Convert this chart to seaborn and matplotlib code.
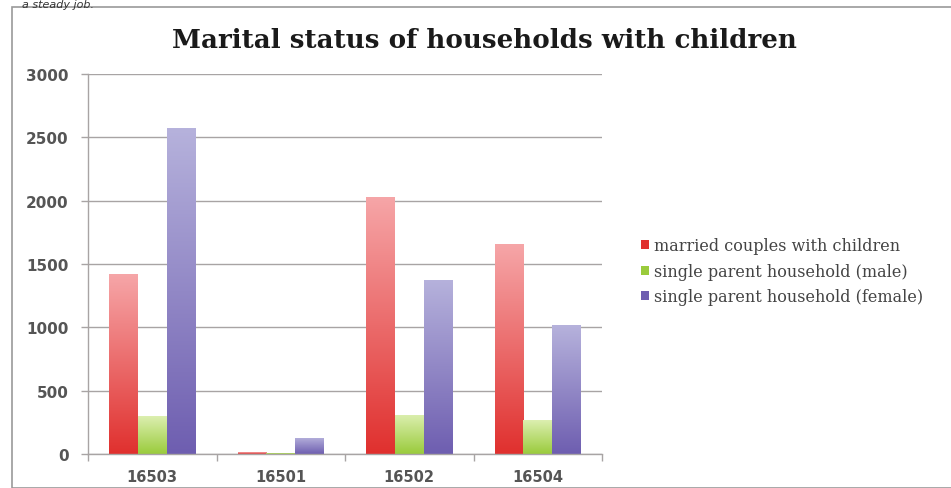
import numpy as np
import pandas as pd
import matplotlib
matplotlib.use("Agg")
import matplotlib.pyplot as plt
from matplotlib.colors import LinearSegmentedColormap
from matplotlib.patches import Rectangle
import seaborn as sns

zip_codes = ["16503", "16501", "16502", "16504"]
married = [1420, 15, 2030, 1655]
single_male = [300, 10, 310, 265]
single_female = [2570, 130, 1375, 1015]
series_names = [
    "married couples with children",
    "single parent household (male)",
    "single parent household (female)",
]
y_ticks = [0, 500, 1000, 1500, 2000, 2500, 3000]

df = pd.DataFrame({
    "zip": zip_codes * 3,
    "value": married + single_male + single_female,
    "series": [series_names[0]] * 4 + [series_names[1]] * 4 + [series_names[2]] * 4,
})

# (top, bottom) colour of each series' vertical gradient
gradients = [("#f6a6a8", "#e0302e"), ("#dcefb0", "#9acb3c"), ("#b6b2dc", "#6e5eb0")]
solid = [g[1] for g in gradients]

sns.set_theme(style="white")
plt.rcParams["font.family"] = ["DejaVu Sans"]

fig = plt.figure(figsize=(9.51, 4.89), dpi=100)
ax = fig.add_axes([88 / 951, 1 - 455 / 489, (602 - 88) / 951, (455 - 75) / 489])

sns.barplot(data=df, x="zip", y="value", hue="series", palette=solid,
            width=0.67, ax=ax, legend=True)

# vertical gradient fill inside every bar
grad = np.linspace(1, 0, 256).reshape(-1, 1)
for i, container in enumerate(ax.containers):
    cmap = LinearSegmentedColormap.from_list(f"g{i}", [gradients[i][1], gradients[i][0]])
    for bar in container:
        x0, y0 = bar.get_x(), bar.get_y()
        w, h = bar.get_width(), bar.get_height()
        bar.set_facecolor("none")
        bar.set_edgecolor("none")
        im = ax.imshow(grad, cmap=cmap, aspect="auto",
                       extent=[x0, x0 + w, y0, y0 + h], zorder=2)
        im.set_clip_path(bar)
ax.set_xlim(-0.5, 3.5)
ax.set_ylim(0, 3000)

ax.set_yticks(y_ticks)
ax.set_yticklabels([str(v) for v in y_ticks])
ax.yaxis.grid(True, color="#a8a4a4", linewidth=1.0)
ax.set_axisbelow(True)
ax.tick_params(axis="y", left=True, length=5, color="#a8a4a4", width=1.0,
               labelsize=11, labelcolor="#555555", pad=9)
ax.tick_params(axis="x", bottom=False, labelsize=10.5, labelcolor="#555555", pad=5)
ax.set_xticks([-0.5, 0.5, 1.5, 2.5, 3.5], minor=True)
ax.tick_params(axis="x", which="minor", bottom=True, length=5, color="#a8a4a4", width=1.0)
for lbl in ax.get_yticklabels() + ax.get_xticklabels():
    lbl.set_fontweight("bold")
ax.set_xlabel("")
ax.set_ylabel("")
for side in ["top", "right"]:
    ax.spines[side].set_visible(False)
for side in ["left", "bottom"]:
    ax.spines[side].set_color("#a8a4a4")
    ax.spines[side].set_linewidth(1.0)

ax.legend_.remove()
proxies = [Rectangle((0, 0), 1, 1, facecolor=g[1], edgecolor="none") for g in gradients]
leg = fig.legend(proxies, series_names, loc="upper left",
                 bbox_to_anchor=(627 / 951, 1 - 224 / 489), frameon=False,
                 handlelength=0.5, handleheight=0.5, handletextpad=0.3,
                 labelspacing=0.53, prop={"family": "DejaVu Serif", "size": 11.5})
for t in leg.get_texts():
    t.set_color("#444444")

fig.text(484 / 951, 1 - 40 / 489, "Marital status of households with children",
         ha="center", va="center", fontsize=18.8, fontweight="bold",
         family="DejaVu Serif", color="#1a1a1a")

# frame around the chart and the caption line above it
fig.patches.append(Rectangle((12 / 951, 0), 1, 1 - 8 / 489, transform=fig.transFigure,
                             fill=False, edgecolor="#9a9a9a", linewidth=1.2))
fig.text(22 / 951, 1.0, "a steady job.", ha="left", va="top",
         fontsize=8, style="italic", color="#333333")

fig.savefig("out.png", dpi=100)
